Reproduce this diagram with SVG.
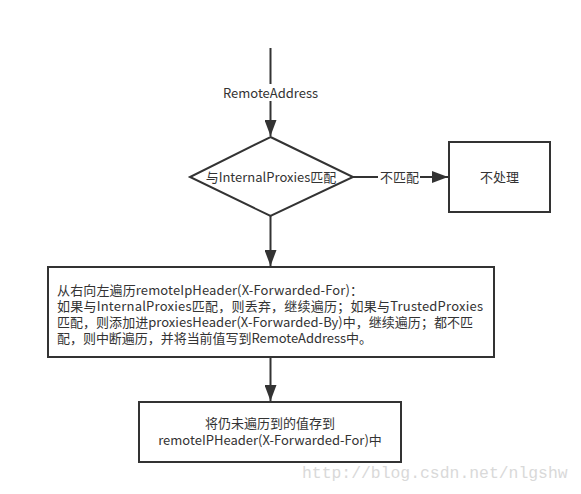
<svg xmlns="http://www.w3.org/2000/svg" width="581" height="494" viewBox="0 0 581 494">
<style>
.ln{stroke:#333;stroke-width:2;fill:none}
.bx{stroke:#333;stroke-width:2;fill:#fff}
.t{font-family:"Noto Sans CJK SC","Noto Sans",sans-serif;font-size:13px;fill:#333}
.wm{font-family:"Liberation Mono",monospace;font-size:16.4px;fill:#d9d9d9}
</style>
<defs>
<marker id="ah" markerUnits="userSpaceOnUse" markerWidth="16" markerHeight="12" refX="16" refY="6" orient="auto">
<path d="M0,0 L16,6 L0,12 Z" fill="#333"/>
</marker>
</defs>
<rect width="581" height="494" fill="#fff"/>
<g id="connectors">
<line class="ln" x1="270.5" y1="48" x2="270.5" y2="84"/>
<line class="ln" x1="270.5" y1="101" x2="270.5" y2="136" marker-end="url(#ah)"/>
<text class="t" x="270.5" y="97.5" text-anchor="middle">RemoteAddress</text>
<line class="ln" x1="353" y1="177" x2="378" y2="177"/>
<line class="ln" x1="420" y1="177" x2="448" y2="177" marker-end="url(#ah)"/>
<text class="t" x="399.5" y="181.5" text-anchor="middle">不匹配</text>
<line class="ln" x1="270.5" y1="216" x2="270.5" y2="266" marker-end="url(#ah)"/>
<line class="ln" x1="270.5" y1="357" x2="270.5" y2="401" marker-end="url(#ah)"/>
</g>
<g id="decision">
<polygon class="bx" points="270.5,137 353,177 270.5,216 190,177"/>
<text class="t" x="271" y="181.5" text-anchor="middle">与InternalProxies匹配</text>
</g>
<g id="noop">
<rect class="bx" x="449" y="142" width="101" height="70"/>
<text class="t" x="499.5" y="181.5" text-anchor="middle">不处理</text>
</g>
<g id="traverse">
<rect class="bx" x="48" y="267" width="446" height="90"/>
<text class="t" x="57" y="294.5" textLength="306" lengthAdjust="spacing">从右向左遍历remoteIpHeader(X-Forwarded-For)：</text>
<text class="t" x="57" y="310.5" textLength="426" lengthAdjust="spacing">如果与InternalProxies匹配，则丢弃，继续遍历；如果与TrustedProxies</text>
<text class="t" x="57" y="326.5" textLength="416" lengthAdjust="spacing">匹配，则添加进proxiesHeader(X-Forwarded-By)中，继续遍历；都不匹</text>
<text class="t" x="57" y="342.5" textLength="315" lengthAdjust="spacing">配，则中断遍历，并将当前值写到RemoteAddress中。</text>
</g>
<g id="store">
<rect class="bx" x="139" y="402" width="262" height="60"/>
<text class="t" x="270" y="427.5" text-anchor="middle">将仍未遍历到的值存到</text>
<text class="t" x="270" y="444.5" text-anchor="middle">remoteIPHeader(X-Forwarded-For)中</text>
</g>
<text class="wm" x="302" y="478">http://blog.csdn.net/nlgshw</text>
</svg>
